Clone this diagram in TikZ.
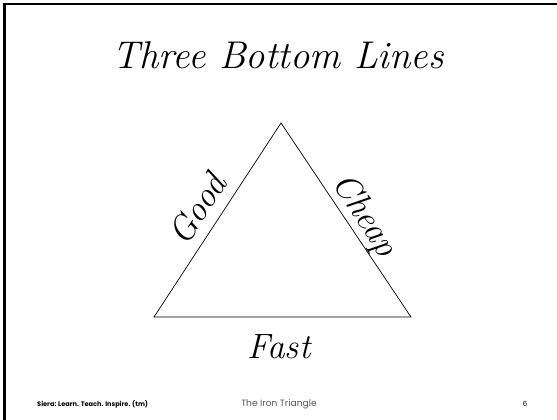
\documentclass[tikz,border=0pt]{standalone}
\usepackage{fontspec}
\setsansfont{Poppins}
\usetikzlibrary{positioning}
\definecolor{footgray}{RGB}{85,85,85}

\begin{document}
\begin{tikzpicture}[x=0.03cm, y=-0.03cm, every node/.style={inner sep=0pt},
    hand/.style={font=\fontsize{30}{32}\selectfont\itshape}]
  \useasboundingbox (0,0) rectangle (557,420);
  % slide frame
  \draw[line width=2.4pt] (4.5,420) -- (4.5,4) -- (557,4);
  \node[font=\fontsize{33}{38}\selectfont\itshape] (title) at (278,55) {Three Bottom Lines};
  % the triangle
  \coordinate (apex) at (281,123);
  \coordinate (left) at (154,317);
  \coordinate (right) at (411,317);
  \draw[semithick] (left) -- (apex) -- (right) -- cycle;
  \node[hand, rotate=57]  (good)  at (197,209) {Good};
  \node[hand, rotate=-57] (cheap) at (364,216) {Cheap};
  \node[hand]             (fast)  at (279,347) {Fast};
  % footer
  \node[font=\sffamily\bfseries\fontsize{5.6}{7}\selectfont, anchor=west] (motto) at (37,404) {Siera: Learn. Teach. Inspire. (tm)};
  \node[font=\sffamily\fontsize{7.8}{9}\selectfont, text=footgray] (topic) at (279,404) {The Iron Triangle};
  \node[font=\sffamily\fontsize{6}{7}\selectfont] (page) at (525,404) {6};
\end{tikzpicture}
\end{document}
